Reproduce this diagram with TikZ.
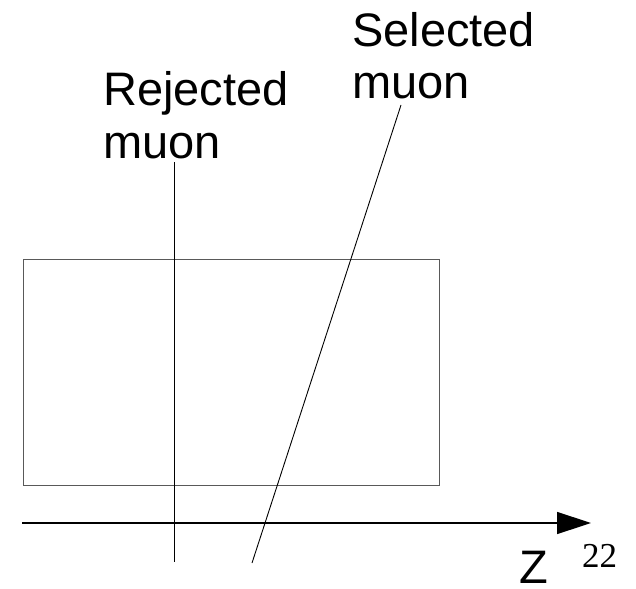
\documentclass[tikz,border=0pt]{standalone}
\usepackage{fontspec}
\setmainfont{Liberation Sans}
\newfontfamily\serifnum{Liberation Serif}
\usetikzlibrary{arrows.meta}
\begin{document}
\begin{tikzpicture}[x=1pt,y=-1pt,
  lbl/.style={inner sep=0pt,anchor=base west,align=left,font=\fontsize{47}{52}\selectfont},
  track/.style={draw=black,line width=0.9pt},
  boxline/.style={draw=black!65,line width=1pt},
  axis/.style={draw=black,line width=1.4pt,-{Triangle[length=34pt,width=22pt]}}]
\useasboundingbox (0,0) rectangle (636,588);
% detector box
\draw[boxline] (23,259) rectangle (439,485);
% axis
\coordinate (a0) at (22,523);
\coordinate (a1) at (591,523);
\draw[axis] (a0) -- (a1);
% tracks
\coordinate (rt) at (174,162);
\coordinate (rb) at (174,562);
\draw[track] (rt) -- (rb);
\coordinate (st) at (401,105);
\coordinate (sb) at (252,563);
\draw[track] (st) -- (sb);
% labels
\node[lbl] (rej) at (103,158) {Rejected\\muon};
\node[lbl] (sel) at (352,99) {Selected\\muon};
\node[lbl] (z) at (519,583) {Z};
\node[inner sep=0pt,anchor=base west,font=\serifnum\fontsize{35}{40}\selectfont] (pg) at (582,567) {22};
\end{tikzpicture}
\end{document}
